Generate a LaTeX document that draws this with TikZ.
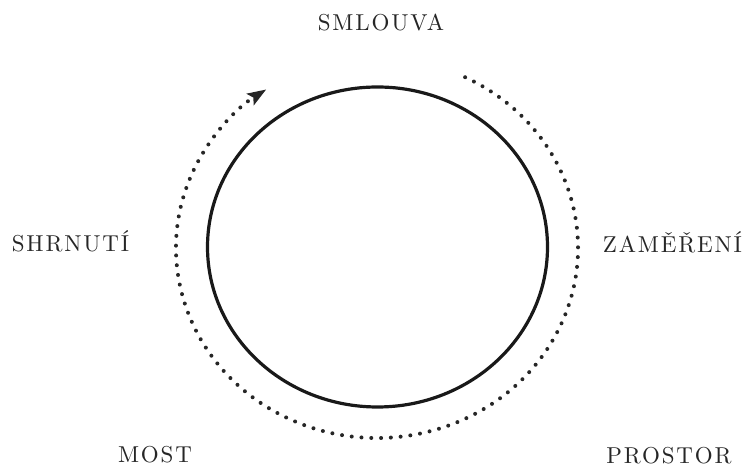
\documentclass[tikz,border=0pt]{standalone}
\usepackage{fontspec}
\newfontfamily\lblfont{lmroman10-regular}[Extension=.otf, LetterSpace=8]
\usetikzlibrary{arrows.meta,calc}
\tikzset{
  lbl/.style={anchor=base, inner sep=0pt, text=black!85,
    font=\lblfont\fontsize{23}{28}\selectfont},
  ring/.style={line width=3.2pt, black!90},
  dots/.style={line width=4pt, black!85, line cap=round, dash pattern=on 0pt off 9.8pt}
}
\begin{document}
\begin{tikzpicture}[x=1pt,y=1pt]
\useasboundingbox (0,0) rectangle (748,468);
\coordinate (c) at (377.5,221);
\coordinate (d) at (377,220);
\draw[ring] (c) ellipse [x radius=170, y radius=160];
\draw[dots, -{Stealth[length=19pt,width=14pt,inset=4pt,line width=0pt]}]
  ($(d)+(64:201 and 190)$) arc [start angle=64, end angle=-236.5, x radius=201, y radius=190];
\node[lbl] (smlouva) at (381,437) {SMLOUVA};
\node[lbl] (shrnuti) at (70.5,216) {SHRNUTÍ};
\node[lbl] (zamereni) at (672.5,215) {ZAMĚŘENÍ};
\node[lbl] (most) at (155,5) {MOST};
\node[lbl] (prostor) at (669,4) {PROSTOR};
\end{tikzpicture}
\end{document}
